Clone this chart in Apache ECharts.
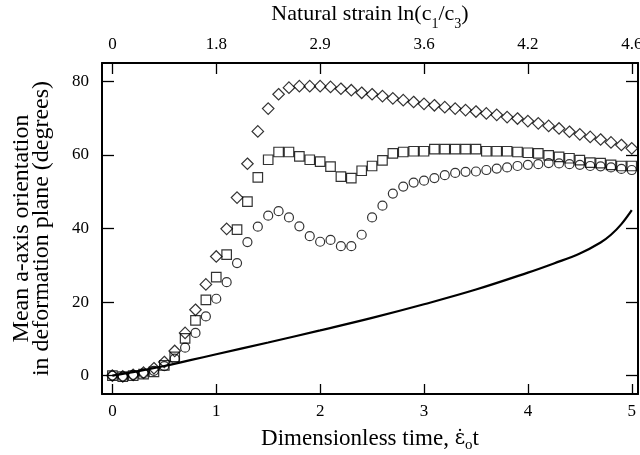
<!DOCTYPE html>
<html>
<head>
<meta charset="utf-8">
<script src="https://cdn.jsdelivr.net/npm/echarts@6/dist/echarts.min.js"></script>
<style>html,body{margin:0;padding:0;background:#fff}#c{width:640px;height:455px}</style>
</head>
<body>
<div id="c"></div>
<script>
const times = [0,0.1,0.2,0.3,0.4,0.5,0.6,0.7,0.8,0.9,1.0,1.1,1.2,1.3,1.4,1.5,1.6,1.7,1.8,1.9,2.0,2.1,2.2,2.3,2.4,2.5,2.6,2.7,2.8,2.9,3.0,3.1,3.2,3.3,3.4,3.5,3.6,3.7,3.8,3.9,4.0,4.1,4.2,4.3,4.4,4.5,4.6,4.7,4.8,4.9,5.0];
const diamonds = [0,-0.2,0.2,0.8,2.0,3.7,6.7,11.6,17.9,24.8,32.4,39.9,48.4,57.6,66.4,72.6,76.5,78.3,78.7,78.7,78.7,78.5,78.0,77.6,76.9,76.5,76.0,75.4,74.9,74.4,73.9,73.5,73.0,72.6,72.2,71.8,71.3,70.9,70.3,69.9,69.2,68.6,67.9,67.2,66.3,65.6,64.9,64.2,63.4,62.7,61.8];
const squares = [0,-0.3,0,0.4,1.0,2.8,5.1,10.1,15.0,20.6,26.8,32.9,39.7,47.3,53.9,58.7,60.8,60.8,59.6,58.7,58.2,56.8,54.1,53.7,55.7,57.0,58.5,60.4,60.8,61.0,61.0,61.6,61.6,61.6,61.6,61.6,61.0,61.0,61.0,60.8,60.6,60.4,59.9,59.5,59.1,58.6,57.9,57.8,57.3,57.0,57.0];
const circles = [0,-0.3,0.2,0.6,1.3,2.6,4.6,7.6,11.6,16.1,20.9,25.4,30.6,36.3,40.5,43.5,44.7,43.0,40.6,37.9,36.4,36.9,35.2,35.2,38.3,43.0,46.2,49.5,51.4,52.5,53.0,53.7,54.5,55.1,55.4,55.5,55.9,56.3,56.6,57.0,57.3,57.5,57.8,57.7,57.5,57.3,57.0,56.9,56.6,56.2,55.9];
const curveT = [0,0.25,0.5,0.75,1.0,1.5,2.0,2.5,3.0,3.5,4.0,4.25,4.5,4.7,4.8,4.9,5.0];
const curveV = [0,1.2,2.6,4.2,5.8,9.0,12.3,15.7,19.4,23.4,28.0,30.5,33.2,36.2,38.3,41.2,45.0];
const bottomTicks = [0,1,2,3,4,5];
const topTickLabels = ['0','1.8','2.9','3.6','4.2','4.6'];
const yTicks = [0,20,40,60,80];

const zip = (a, b) => a.map((v, i) => [v, b[i]]);
const FONT = 'Liberation Serif';
const openStyle = {color: 'transparent', borderColor: '#000', borderWidth: 1.2};

const chart = echarts.init(document.getElementById('c'));
chart.setOption({
  animation: false,
  backgroundColor: '#fff',
  textStyle: {fontFamily: FONT, color: '#000'},
  grid: {left: 102, right: 2, top: 63, bottom: 61, outerBoundsMode: 'none', containLabel: false},
  xAxis: [{
    type: 'value', position: 'bottom', min: -0.1, max: 5.06,
    name: '{a|Dimensionless time, }{e|ε̇}{s|o}{a|t}',
    nameLocation: 'middle', nameGap: 32,
    nameTextStyle: {rich: {
      a: {fontFamily: FONT, fontSize: 23, color: '#000', lineHeight: 26},
      e: {fontFamily: 'DejaVu Serif', fontSize: 20, color: '#000', lineHeight: 26},
      s: {fontFamily: FONT, fontSize: 15, color: '#000', verticalAlign: 'bottom', lineHeight: 26, padding: [0,0,-1,0]}
    }},
    axisLine: {onZero: false, lineStyle: {color: '#000', width: 2}},
    axisTick: {inside: true, length: 10, customValues: bottomTicks, lineStyle: {color: '#000', width: 1.3}},
    axisLabel: {customValues: bottomTicks, margin: 9, fontFamily: FONT, fontSize: 17, color: '#000'},
    splitLine: {show: false}
  }, {
    type: 'value', position: 'top', min: -0.1, max: 5.06,
    name: '{a|Natural strain ln(c}{s|1}{a|/c}{s|3}{a|)}',
    nameLocation: 'middle', nameGap: 27,
    nameTextStyle: {rich: {
      a: {fontFamily: FONT, fontSize: 22, color: '#000', lineHeight: 26},
      s: {fontFamily: FONT, fontSize: 14, color: '#000', verticalAlign: 'bottom', lineHeight: 26, padding: [0,0,-4,0]}
    }},
    axisLine: {onZero: false, lineStyle: {color: '#000', width: 2}},
    axisTick: {inside: true, length: 11, customValues: bottomTicks, lineStyle: {color: '#000', width: 1.3}},
    axisLabel: {customValues: bottomTicks, margin: 10, fontFamily: FONT, fontSize: 17, color: '#000',
      formatter: v => topTickLabels[Math.round(v)]},
    splitLine: {show: false}
  }],
  yAxis: [{
    type: 'value', position: 'left', min: -5, max: 85,
    name: 'Mean a-axis orientation\nin deformation plane (degrees)',
    nameLocation: 'middle', nameGap: 50,
    nameTextStyle: {fontFamily: FONT, fontSize: 24, color: '#000', lineHeight: 20},
    axisLine: {onZero: false, lineStyle: {color: '#000', width: 2}},
    axisTick: {inside: true, length: 12, customValues: yTicks, lineStyle: {color: '#000', width: 1.3}},
    axisLabel: {customValues: yTicks, margin: 13, fontFamily: FONT, fontSize: 17, color: '#000'},
    splitLine: {show: false}
  }, {
    type: 'value', position: 'right', min: -5, max: 85,
    axisLine: {onZero: false, lineStyle: {color: '#000', width: 2}},
    axisTick: {inside: true, length: 12, customValues: yTicks, lineStyle: {color: '#000', width: 1.3}},
    axisLabel: {show: false},
    splitLine: {show: false}
  }],
  series: [{
    type: 'line', data: zip(curveT, curveV), smooth: 0.4, showSymbol: false,
    lineStyle: {color: '#000', width: 2.2}
  }, {
    type: 'scatter', data: zip(times, circles), symbol: 'circle', symbolSize: 9, itemStyle: openStyle
  }, {
    type: 'scatter', data: zip(times, squares), symbol: 'rect', symbolSize: 9.5, itemStyle: openStyle
  }, {
    type: 'scatter', data: zip(times, diamonds), symbol: 'path://M0,-1L1,0L0,1L-1,0Z', symbolSize: 11.5, itemStyle: openStyle
  }]
});
</script>
</body>
</html>
